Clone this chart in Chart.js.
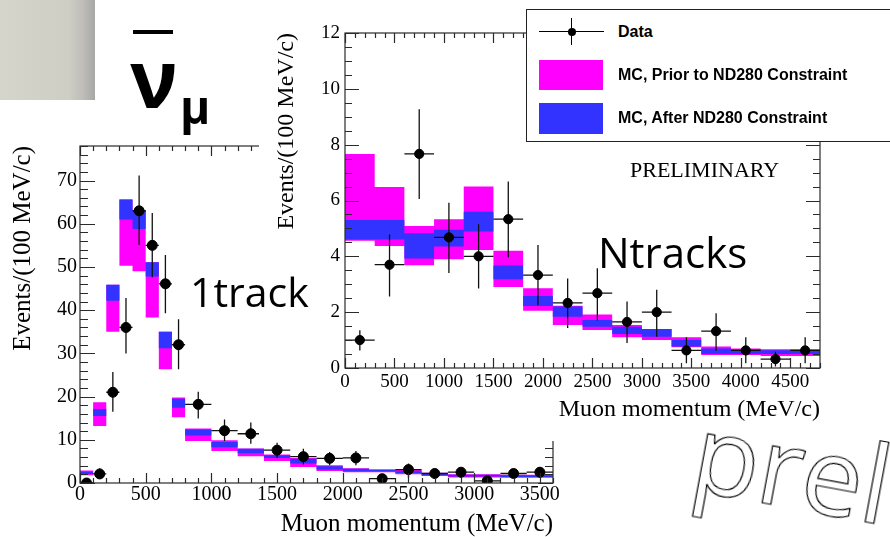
<!DOCTYPE html>
<html>
<head>
<meta charset="utf-8">
<title>Muon momentum, 1track and Ntracks samples</title>
<script src="https://cdn.jsdelivr.net/npm/chart.js@4.4.1/dist/chart.umd.min.js"></script>
<style>
  html, body { margin: 0; padding: 0; background: #fff; }
  body { width: 890px; height: 537px; position: relative; overflow: hidden; }
  canvas { position: absolute; top: 0; }
  #trkCanvas { left: 0; z-index: 1; }
  #ntrkCanvas { left: 259px; z-index: 2; }
  .lbl { position: absolute; z-index: 6; white-space: nowrap; line-height: 1; color: #000; }
  .sans { font-family: "Open Sans", "Noto Sans", sans-serif; }
  .key { font-family: "Liberation Sans", Arial, sans-serif; font-weight: bold; font-size: 16px; }
  .box { position: absolute; z-index: 5; }
  #greyPanel { left: 0; top: 0; width: 95px; height: 100px; z-index: 3;
    background: linear-gradient(to right, #d6d5cb 0%, #cfcec5 72%, #bdbcb6 88%, #a7a7a7 100%); }
  #legendBox { left: 526px; top: 9px; width: 380px; height: 131px; border: 1.5px solid #222; background: #fff; z-index: 4; }
  #watermark { font-family: "Open Sans", "Noto Sans", sans-serif; font-size: 108px; color: #fff;
    -webkit-text-stroke: 1.2px #000; transform-origin: 0 96px; transform: rotate(10.5deg); }
</style>
</head>
<body>
<div id="greyPanel" class="box"></div>
<canvas id="trkCanvas" width="570" height="537"></canvas>
<canvas id="ntrkCanvas" width="631" height="441"></canvas>

<!-- anti-neutrino label -->
<div class="box" style="left:133px;top:30px;width:40px;height:4px;background:#000;z-index:6"></div>
<div class="lbl sans" style="left:130px;top:37px;font-size:80px;font-weight:bold">ν</div>
<div class="lbl sans" style="left:180px;top:83px;font-size:46px;font-weight:bold">μ</div>

<div class="lbl sans" style="left:190px;top:271px;font-size:41px">1track</div>
<div class="lbl sans" style="left:598px;top:231px;font-size:42px">Ntracks</div>
<div class="lbl" style="left:630px;top:159px;font-size:22px;font-family:'Liberation Serif','Times New Roman',serif">PRELIMINARY</div>

<!-- legend -->
<div id="legendBox" class="box"></div>
<div class="box" style="left:539px;top:31px;width:65px;height:0;border-top:1.3px solid #000"></div>
<div class="box" style="left:571px;top:18px;width:0;height:27px;border-left:1.3px solid #000"></div>
<div class="box" style="left:568px;top:28px;width:8px;height:8px;border-radius:50%;background:#000"></div>
<div class="box" style="left:539px;top:60px;width:64px;height:30px;background:#ff00ff"></div>
<div class="box" style="left:539px;top:103px;width:64px;height:31px;background:#3333ff"></div>
<div class="lbl key" style="left:618px;top:24px">Data</div>
<div class="lbl key" style="left:618px;top:67px">MC, Prior to ND280 Constraint</div>
<div class="lbl key" style="left:618px;top:110px">MC, After ND280 Constraint</div>

<div id="watermark" class="lbl" style="left:688px;top:394px">preliminary</div>

<script>
// ---- 1track sample (bin edges in MeV/c, events per 100 MeV/c) ----
const trkEdges = [0, 100, 200, 300, 400, 500, 600, 700, 800, 1000, 1200, 1400, 1600,
  1800, 2000, 2200, 2400, 2600, 2800, 3000, 3200, 3400, 3600];
const trkData  = [0, 2.1, 21, 36, 63, 55, 46.1, 32, 18.2, 12.1, 11.4, 7.6, 6.1,
  5.7, 5.8, 1.0, 3.1, 2.2, 2.5, 0.5, 2.2, 2.5];
const trkErrLo = [0, 1.0, 16.5, 30, 55.1, 47.6, 39.3, 26.3, 14.9, 9.7, 9.1, 5.8, 4.3,
  4.1, 4.1, 0.5, 1.2, 1.0, 1.2, 0.5, 1.2, 1.3];
const trkErrHi = [0, 3.4, 25.7, 42.8, 71.2, 62.5, 52.8, 37.9, 21.1, 14.7, 14.0, 9.3, 7.9,
  7.2, 7.4, 1.5, 4.5, 3.2, 3.6, 0.5, 3.2, 3.7];
const trkPriorLo = [1.4, 1.8, 13.2, 35, 50.3, 49, 38.3, 26.3, 15.2, 9.7, 7.4, 6.2, 5.1,
  3.7, 2.8, 2.5, 2.5, 2.0, 1.6, 1.3, 1.3, 1.2];
const trkPriorHi = [2.3, 2.9, 18.7, 45.9, 65.6, 63.2, 51.1, 35, 19.8, 12.6, 9.9, 8.0, 6.6,
  5.8, 4.1, 3.4, 3.2, 3.0, 2.4, 2.0, 2.0, 1.9];
const trkAfterLo = [1.6, 2.1, 15.5, 42.2, 61, 58.8, 47.8, 31.2, 17.4, 11.0, 8.3, 6.9, 5.8,
  4.5, 3.1, 2.7, 2.7, 2.3, 1.8, 1.5, 1.5, 1.4];
const trkAfterHi = [2.0, 2.6, 17.1, 45.9, 65.6, 63.2, 51.1, 35, 19.5, 12.4, 9.5, 7.9, 6.4,
  5.6, 3.9, 3.3, 3.0, 2.7, 2.2, 1.9, 1.9, 1.8];
const trkXTicks = [0, 500, 1000, 1500, 2000, 2500, 3000, 3500];
const trkYTicks = [0, 10, 20, 30, 40, 50, 60, 70];

// ---- Ntracks sample ----
const ntrkEdges = [0, 300, 600, 900, 1200, 1500, 1800, 2100, 2400, 2700, 3000, 3300,
  3600, 3900, 4200, 4500, 4800];
const ntrkData  = [1.0, 3.7, 7.67, 4.68, 4.0, 5.33, 3.33, 2.33, 2.68, 1.65, 2.0, 0.63,
  1.32, 0.63, 0.32, 0.63];
const ntrkErrLo = [0.63, 2.56, 6.05, 3.4, 2.85, 3.97, 2.25, 1.43, 1.7, 0.9, 1.12, 0.17,
  0.62, 0.17, 0.05, 0.17];
const ntrkErrHi = [1.35, 4.78, 9.27, 5.92, 5.15, 6.68, 4.41, 3.21, 3.57, 2.38, 2.8, 1.1,
  1.96, 1.1, 0.58, 1.1];
const ntrkPriorLo = [0.92, 4.56, 4.37, 3.68, 3.9, 4.23, 2.9, 2.05, 1.54, 1.36, 1.1, 1.0,
  0.74, 0.47, 0.47, 0.43];
const ntrkPriorHi = [1.5, 7.67, 6.48, 5.09, 5.33, 6.5, 4.2, 2.86, 2.23, 1.92, 1.54, 1.4,
  1.1, 0.77, 0.7, 0.67];
const ntrkAfterLo = [0.98, 4.6, 4.6, 3.92, 4.35, 4.89, 3.18, 2.22, 1.84, 1.48, 1.22, 1.12,
  0.77, 0.5, 0.5, 0.5];
const ntrkAfterHi = [1.17, 5.3, 5.3, 4.83, 4.95, 5.6, 3.67, 2.58, 2.2, 1.72, 1.48, 1.4,
  1.0, 0.7, 0.66, 0.64];
const ntrkXTicks = [0, 500, 1000, 1500, 2000, 2500, 3000, 3500, 4000, 4500];
const ntrkYTicks = [0, 2, 4, 6, 8, 10, 12];

const PINK = '#ff00ff';
const BLUE = '#3333ff';
const SERIF = '"Liberation Serif", "Times New Roman", serif';

// step outline: value holds from edge i to edge i+1
function stepPoints(edges, vals) {
  const pts = vals.map((v, i) => ({ x: edges[i], y: v }));
  pts.push({ x: edges[edges.length - 1], y: vals[vals.length - 1] });
  return pts;
}
function binCenters(edges) {
  return edges.slice(0, -1).map((e, i) => (e + edges[i + 1]) / 2);
}
// horizontal bars span the bin, null breaks the line between bars
function xBars(edges, vals) {
  const pts = [];
  vals.forEach((v, i) => pts.push({ x: edges[i], y: v }, { x: edges[i + 1], y: v }, { x: edges[i + 1], y: null }));
  return pts;
}
function yBars(centers, lo, hi) {
  const pts = [];
  centers.forEach((c, i) => pts.push({ x: c, y: lo[i] }, { x: c, y: hi[i] }, { x: c, y: null }));
  return pts;
}

// white backdrop + ROOT style frame with inward ticks on all four sides
const rootFrame = {
  id: 'rootFrame',
  beforeDraw(chart, args, opts) {
    if (!opts.background) return;
    const ctx = chart.ctx;
    ctx.save();
    ctx.fillStyle = opts.background;
    ctx.fillRect(0, 0, chart.width, chart.height);
    ctx.restore();
  },
  afterDatasetsDraw(chart, args, opts) {
    const { ctx, chartArea: a, scales: { x, y } } = chart;
    ctx.save();
    ctx.strokeStyle = '#2a2a2a';
    ctx.lineWidth = 1.2;
    ctx.strokeRect(a.left, a.top, a.right - a.left, a.bottom - a.top);
    ctx.beginPath();
    const isMajor = (v, step) => Math.abs(v / step - Math.round(v / step)) < 1e-6;
    for (let v = x.min; v <= x.max + 1e-6; v += opts.xMinor) {
      const px = Math.round(x.getPixelForValue(v)) + 0.5;
      const len = isMajor(v, opts.xMajor) ? opts.xLen[0] : opts.xLen[1];
      ctx.moveTo(px, a.bottom); ctx.lineTo(px, a.bottom - len);
      ctx.moveTo(px, a.top); ctx.lineTo(px, a.top + len);
    }
    for (let v = y.min; v <= y.max + 1e-6; v += opts.yMinor) {
      const py = Math.round(y.getPixelForValue(v)) + 0.5;
      const len = isMajor(v, opts.yMajor) ? opts.yLen[0] : opts.yLen[1];
      ctx.moveTo(a.left, py); ctx.lineTo(a.left + len, py);
      ctx.moveTo(a.right, py); ctx.lineTo(a.right - len, py);
    }
    ctx.stroke();
    ctx.restore();
  }
};

function histConfig(o) {
  const centers = binCenters(o.edges);
  const band = (vals, extra) => Object.assign({
    data: stepPoints(o.edges, vals), stepped: 'after', borderWidth: 0,
    borderColor: 'transparent', pointRadius: 0, fill: false
  }, extra);
  const bar = { borderColor: '#111', borderWidth: 1.3, pointRadius: 0, fill: false, spanGaps: false, order: 0 };
  const tickFont = { family: SERIF, size: o.tickSize, lineHeight: 1 };
  const titleFont = { family: SERIF, size: o.titleSize, lineHeight: 1 };
  return {
    type: 'line',
    data: {
      datasets: [
        { type: 'scatter', label: 'Data', data: centers.map((c, i) => ({ x: c, y: o.data[i] })),
          pointRadius: o.r, pointBackgroundColor: '#000', pointBorderColor: '#000', order: 0 },
        Object.assign({ data: yBars(centers, o.errLo, o.errHi) }, bar),
        Object.assign({ data: xBars(o.edges, o.data) }, bar),
        band(o.afterHi, { order: 1 }),
        band(o.afterLo, { fill: '-1', backgroundColor: BLUE, order: 1 }),
        band(o.priorHi, { order: 2 }),
        band(o.priorLo, { fill: '-1', backgroundColor: PINK, order: 2 })
      ]
    },
    options: {
      responsive: false,
      animation: false,
      devicePixelRatio: 1,
      events: [],
      layout: { padding: o.padding },
      plugins: {
        legend: { display: false },
        tooltip: { enabled: false },
        rootFrame: o.frame
      },
      scales: {
        x: {
          type: 'linear', min: 0, max: o.xMax,
          grid: { display: false, drawTicks: false }, border: { display: false },
          afterBuildTicks: s => { s.ticks = o.xTicks.map(v => ({ value: v })); },
          ticks: {
            autoSkip: false, maxRotation: 0, minRotation: 0, padding: o.xPad, color: '#000',
            font: tickFont, callback: v => String(v)
          },
          title: {
            display: true, text: 'Muon momentum (MeV/c)', align: 'end', color: '#000',
            font: titleFont, padding: { top: 0, bottom: o.xTitlePad }
          },
          afterFit: s => { s.height = o.xH; }
        },
        y: {
          type: 'linear', min: 0, max: o.yMax,
          grid: { display: false, drawTicks: false }, border: { display: false },
          afterBuildTicks: s => { s.ticks = o.yTicks.map(v => ({ value: v })); },
          ticks: {
            autoSkip: false, padding: o.yPad, color: '#000',
            font: tickFont, callback: v => String(v)
          },
          title: {
            display: true, text: 'Events/(100 MeV/c)', align: 'end', color: '#000',
            font: titleFont, padding: { top: o.yTitlePad, bottom: 0 }
          },
          afterFit: s => { s.width = o.yW; }
        }
      }
    },
    plugins: [rootFrame]
  };
}

new Chart(document.getElementById('trkCanvas'), histConfig({
  edges: trkEdges, data: trkData, errLo: trkErrLo, errHi: trkErrHi,
  priorLo: trkPriorLo, priorHi: trkPriorHi, afterLo: trkAfterLo, afterHi: trkAfterHi,
  xTicks: trkXTicks, yTicks: trkYTicks,
  r: 5, xMax: 3600, yMax: 78,
  padding: { left: 0, top: 146, right: 17, bottom: 0 },
  yW: 80, xH: 54, xPad: 2, yPad: 3, tickSize: 20, titleSize: 25,
  xTitlePad: 0.5, yTitlePad: 10.5,
  frame: { xMinor: 100, xMajor: 500, yMinor: 2, yMajor: 10, xLen: [10, 5], yLen: [15, 8] }
}));

new Chart(document.getElementById('ntrkCanvas'), histConfig({
  edges: ntrkEdges, data: ntrkData, errLo: ntrkErrLo, errHi: ntrkErrHi,
  priorLo: ntrkPriorLo, priorHi: ntrkPriorHi, afterLo: ntrkAfterLo, afterHi: ntrkAfterHi,
  xTicks: ntrkXTicks, yTicks: ntrkYTicks,
  r: 4.6, xMax: 4800, yMax: 12,
  padding: { left: 0, top: 33, right: 70, bottom: 0 },
  yW: 86, xH: 73, xPad: 4.5, yPad: 5, tickSize: 19, titleSize: 24,
  xTitlePad: 19, yTitlePad: 15.5,
  frame: { background: '#fff', xMinor: 100, xMajor: 500, yMinor: 0.5, yMajor: 2, xLen: [10, 5], yLen: [14, 7] }
}));
</script>
</body>
</html>
